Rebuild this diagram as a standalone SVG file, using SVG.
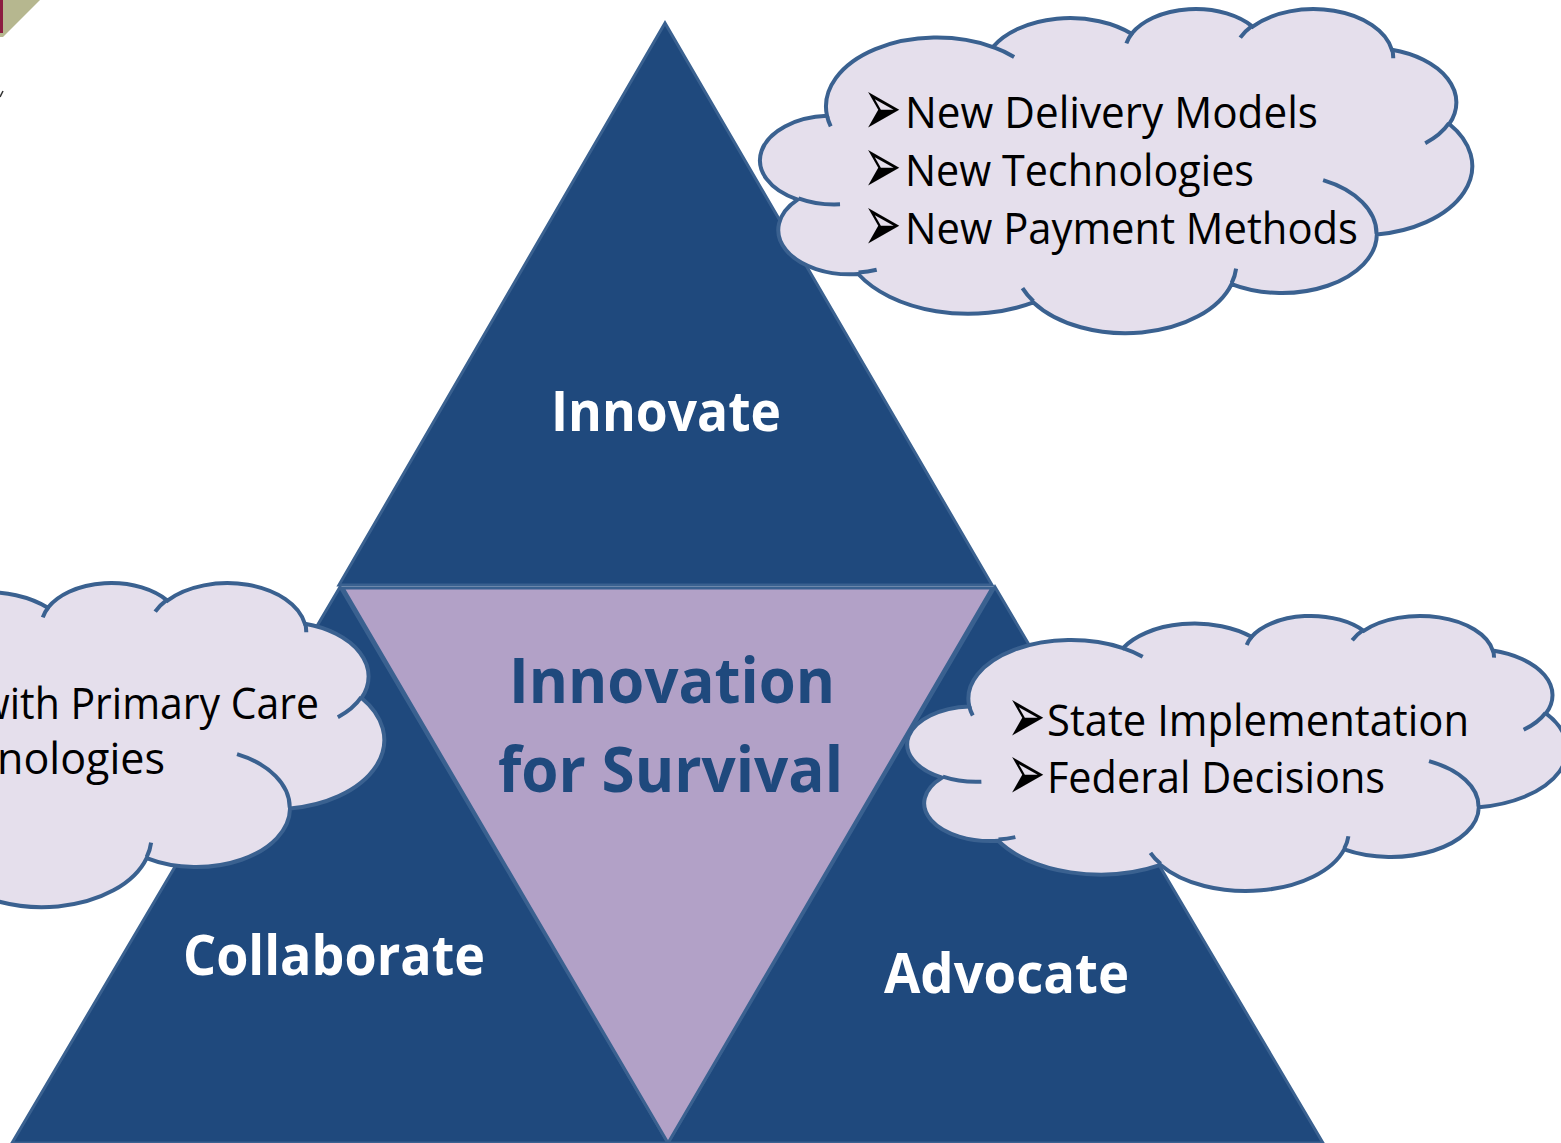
<svg xmlns="http://www.w3.org/2000/svg" xmlns:xlink="http://www.w3.org/1999/xlink" width="1561" height="1143" viewBox="0 0 1561 1143">
<style>
.tri{fill:#1F497D;stroke:#3A6190;stroke-width:3;stroke-linejoin:miter}
.mid{fill:#B2A1C7;stroke:#3A6190;stroke-width:3}
.cfill{fill:#E5DFEC;stroke:#3A6190;stroke-width:4}
.chook{fill:none;stroke:#3A6190;stroke-width:4}
.lbl{font-family:"Open Sans","Liberation Sans",sans-serif;font-weight:bold;font-size:56px;fill:#FFFFFF}
.ctr{font-family:"Open Sans","Liberation Sans",sans-serif;font-weight:bold;font-size:63px;fill:#1F497D}
.ct{font-family:"Open Sans","Liberation Sans",sans-serif;font-size:44px;fill:#000000}
.bul{font-family:"DejaVu Sans",sans-serif;font-size:46px;fill:#000000}
</style>
<defs>
<g id="cloud">
<path class="cfill" vector-effect="non-scaling-stroke" d="M3900,14370 A6753,9190 0 0 1 14005,5202 A5333,7267 0 0 1 22455,3433 A4365,5945 0 0 1 29831,2480 A4857,6595 0 0 1 38316,5574 A5333,7273 0 0 1 41816,15458 A6775,9220 0 0 1 37401,30200 A5785,7867 0 0 1 28552,36810 A6752,9215 0 0 1 16477,39261 A7720,10543 0 0 1 5800,35468 A4360,5918 0 0 1 2109,25545 A4345,5945 0 0 1 3900,14370 Z"/>
<path class="chook" vector-effect="non-scaling-stroke" d="M4693,26177 A4345,5945 0 0 1 2159,25380 M6928,34899 A4360,5918 0 0 1 5819,35281 M16478,39090 A6752,9215 0 0 1 15810,37350 M28827,34751 A6752,9215 0 0 1 28560,36661 M34129,22954 A5785,7867 0 0 1 37380,30089 M41798,15354 A5333,7273 0 0 1 40350,18029 M38324,5426 A4857,6595 0 0 1 38400,6691 M29078,3952 A4857,6595 0 0 1 29820,2340 M22141,4720 A4365,5945 0 0 1 22500,3330 M14000,5192 A6753,9190 0 0 1 15301,6542 M4127,15789 A6753,9190 0 0 1 3900,14370"/>
</g>
</defs>
<rect width="1561" height="1143" fill="#FFFFFF"/>
<g id="corner">
<polygon points="0,0 40,0 3,37 0,37" fill="#B6B78F"/>
<rect x="0" y="0" width="3" height="33" fill="#8C1D40"/>
<path d="M0,97 L3,91" stroke="#333333" stroke-width="1.5" fill="none"/>
</g>
<g id="connectors"></g>
<g id="collaborate">
<polygon class="tri" points="340,587 12,1143 668,1143"/>
<text class="lbl" x="183" y="975" textLength="302" lengthAdjust="spacingAndGlyphs">Collaborate</text>
</g>
<g id="advocate">
<polygon class="tri" points="995,587 668,1143 1323,1143"/>
<text class="lbl" x="884" y="993" textLength="245" lengthAdjust="spacingAndGlyphs">Advocate</text>
</g>
<g id="innovate">
<polygon class="tri" points="665,23 339,585 992,585"/>
<text class="lbl" x="551" y="431" textLength="230" lengthAdjust="spacingAndGlyphs">Innovate</text>
</g>
<g id="center">
<polygon class="mid" points="343,588 992,588 668,1143"/>
<text class="ctr" x="509" y="703" textLength="326" lengthAdjust="spacingAndGlyphs">Innovation</text>
<text class="ctr" x="498" y="792" textLength="345" lengthAdjust="spacingAndGlyphs">for Survival</text>
</g>
<g id="cloud-top">
<use xlink:href="#cloud" href="#cloud" transform="translate(763,8) scale(0.016412,0.0075)"/>
<text class="bul" transform="translate(863,135) scale(1,1.75)">➢</text>
<text class="ct" x="905" y="128" textLength="413" lengthAdjust="spacingAndGlyphs">New Delivery Models</text>
<text class="bul" transform="translate(863,193) scale(1,1.75)">➢</text>
<text class="ct" x="905" y="186" textLength="349" lengthAdjust="spacingAndGlyphs">New Technologies</text>
<text class="bul" transform="translate(863,251) scale(1,1.75)">➢</text>
<text class="ct" x="905" y="244" textLength="453" lengthAdjust="spacingAndGlyphs">New Payment Methods</text>
</g>
<g id="cloud-left">
<use xlink:href="#cloud" href="#cloud" transform="translate(-316,582) scale(0.016204,0.0075)"/>
<text class="ct" x="-22" y="719" textLength="341" lengthAdjust="spacingAndGlyphs">with Primary Care</text>
<text class="ct" x="-3" y="774" textLength="168" lengthAdjust="spacingAndGlyphs">nologies</text>
</g>
<g id="cloud-right">
<use xlink:href="#cloud" href="#cloud" transform="translate(910,615) scale(0.015208,0.006366)"/>
<text class="bul" transform="translate(1007,743) scale(1,1.75)">➢</text>
<text class="ct" x="1047" y="736" textLength="422" lengthAdjust="spacingAndGlyphs">State Implementation</text>
<text class="bul" transform="translate(1007,800) scale(1,1.75)">➢</text>
<text class="ct" x="1047" y="793" textLength="338" lengthAdjust="spacingAndGlyphs">Federal Decisions</text>
</g>
</svg>
